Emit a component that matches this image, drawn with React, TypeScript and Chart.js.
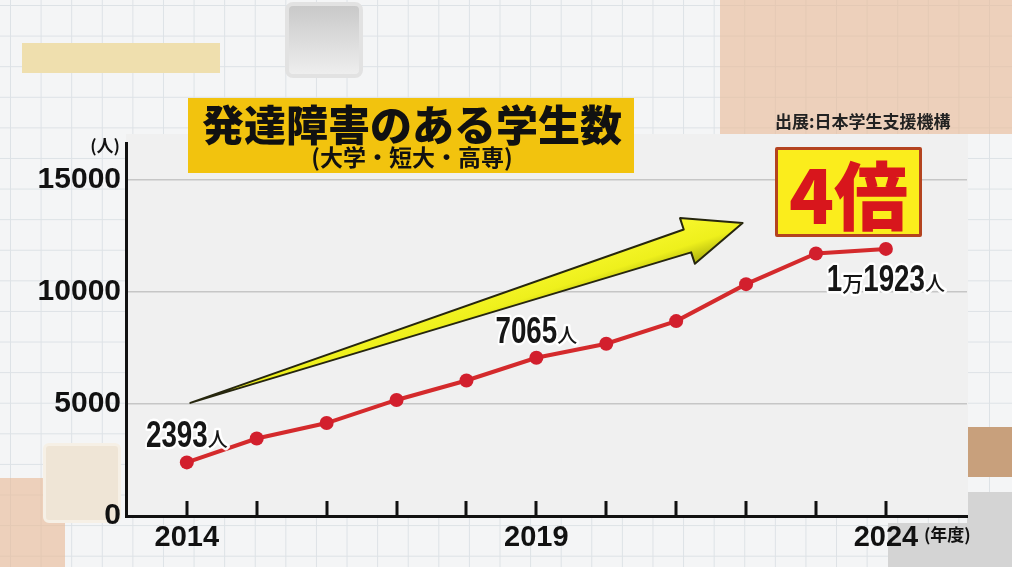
import React, { useEffect, useRef } from "react";
import { Chart, registerables } from "chart.js";

Chart.register(...registerables);

// ---- data ----
const years = [2014, 2015, 2016, 2017, 2018, 2019, 2020, 2021, 2022, 2023, 2024];
const students = [2393, 3460, 4150, 5180, 6050, 7065, 7690, 8700, 10350, 11720, 11923];
const yTickValues = [0, 5000, 10000, 15000];
const xLabelYears = [2014, 2019, 2024];
const labelIndices = [0, 5, 10];
const labelTexts = ["2393人", "7065人", "1万1923人"];
const labelBelow = [false, false, true];

// ---- texts ----
const titleMain = "発達障害のある学生数";
const titleSub = "(大学・短大・高専)";
const sourceText = "出展:日本学生支援機構";
const badgeText = "4倍";
const yUnit = "(人)";
const xUnit = "(年度)";

// arrow anchored in data space
const arrowFrom = [2014.05, 5050];
const arrowTo = [2021.95, 13080];

const NUM_FONT = "'Liberation Sans', Arial, sans-serif";
const JP_FONT = "'Noto Sans CJK JP', 'Noto Sans', sans-serif";

function splitParts(t: string) {
  const parts: { s: string; big: boolean }[] = [];
  for (const ch of t) {
    const big = /[0-9]/.test(ch);
    const last = parts[parts.length - 1];
    if (last && last.big && big) last.s += ch;
    else parts.push({ s: ch, big });
  }
  return parts;
}

const overlayPlugin = {
  id: "overlay",
  beforeDatasetsDraw(chart: any) {
    const { ctx, scales } = chart;
    const x = scales.x;
    const y = scales.y;
    // arrow
    const tx = x.getPixelForValue(arrowFrom[0]);
    const ty = y.getPixelForValue(arrowFrom[1]);
    const px = x.getPixelForValue(arrowTo[0]);
    const py = y.getPixelForValue(arrowTo[1]);
    const dx = px - tx;
    const dy = py - ty;
    const len = Math.hypot(dx, dy);
    const ux = dx / len;
    const uy = dy / len;
    const nx = -uy;
    const ny = ux;
    const headLen = 58;
    const headHalf = 24;
    const shaftHalf = 12;
    const bx = px - ux * headLen;
    const by = py - uy * headLen;
    ctx.save();
    ctx.beginPath();
    ctx.moveTo(tx, ty);
    ctx.lineTo(bx - nx * shaftHalf, by - ny * shaftHalf);
    ctx.lineTo(bx - nx * headHalf, by - ny * headHalf);
    ctx.lineTo(px, py);
    ctx.lineTo(bx + nx * headHalf, by + ny * headHalf);
    ctx.lineTo(bx + nx * shaftHalf, by + ny * shaftHalf);
    ctx.closePath();
    const g = ctx.createLinearGradient(bx - nx * 20, by - ny * 20, bx + nx * 20, by + ny * 20);
    g.addColorStop(0, "#f6f62a");
    g.addColorStop(0.6, "#eef01c");
    g.addColorStop(1, "#b8bc10");
    ctx.fillStyle = g;
    ctx.fill();
    ctx.lineJoin = "round";
    ctx.lineWidth = 2;
    ctx.strokeStyle = "#26260e";
    ctx.stroke();
    ctx.restore();
  },
  afterDatasetsDraw(chart: any) {
    const { ctx } = chart;
    const meta = chart.getDatasetMeta(0);
    labelIndices.forEach((idx, k) => {
      const pt = meta.data[idx];
      const parts = splitParts(labelTexts[k]);
      const sx = 0.75;
      const fontOf = (p: { s: string; big: boolean }) =>
        p.big ? `bold 37px ${NUM_FONT}` : `500 ${p.s === "万" ? 21 : 20}px ${JP_FONT}`;
      ctx.save();
      const widths = parts.map((p) => {
        ctx.font = fontOf(p);
        return ctx.measureText(p.s).width * (p.big ? sx : 1);
      });
      const total = widths.reduce((a, b) => a + b, 0);
      let cx = pt.x - total / 2;
      const baseY = labelBelow[k] ? pt.y + 42 : pt.y - 15;
      ctx.textBaseline = "alphabetic";
      ctx.textAlign = "left";
      parts.forEach((p, i) => {
        ctx.save();
        ctx.font = fontOf(p);
        ctx.translate(cx, baseY);
        if (p.big) ctx.scale(sx, 1);
        ctx.lineJoin = "round";
        ctx.strokeStyle = "rgba(255,255,255,0.95)";
        ctx.lineWidth = 5;
        ctx.strokeText(p.s, 0, 0);
        ctx.fillStyle = "#161616";
        ctx.fillText(p.s, 0, 0);
        ctx.restore();
        cx += widths[i];
      });
      ctx.restore();
    });
  },
  afterDraw(chart: any) {
    const { ctx, chartArea, scales } = chart;
    const x = scales.x;
    ctx.save();
    // inward tick marks on x-axis
    ctx.strokeStyle = "#111";
    ctx.lineWidth = 3;
    years.forEach((yr) => {
      const px = Math.round(x.getPixelForValue(yr));
      ctx.beginPath();
      ctx.moveTo(px, chartArea.bottom - 15);
      ctx.lineTo(px, chartArea.bottom);
      ctx.stroke();
    });
    // units
    ctx.fillStyle = "#111";
    ctx.font = `bold 17px ${JP_FONT}`;
    ctx.textAlign = "right";
    ctx.textBaseline = "middle";
    ctx.fillText(yUnit, chartArea.left - 6, chartArea.top + 3);
    ctx.textAlign = "left";
    ctx.fillText(xUnit, x.getPixelForValue(2024) + 38, chartArea.bottom + 19);
    ctx.restore();
  },
};

export default function App() {
  const canvasRef = useRef<HTMLCanvasElement | null>(null);

  useEffect(() => {
    document.body.style.margin = "0";
    const canvas = canvasRef.current;
    if (!canvas) return;
    const chart = new Chart(canvas, {
      type: "line",
      data: {
        datasets: [
          {
            data: years.map((yr, i) => ({ x: yr, y: students[i] })),
            borderColor: "#d42a2c",
            borderWidth: 4,
            pointRadius: 7,
            pointBackgroundColor: "#d21f2d",
            pointBorderColor: "#d21f2d",
            pointBorderWidth: 0,
            tension: 0,
          },
        ],
      },
      options: {
        responsive: false,
        animation: false,
        layout: { padding: { left: 0, right: 57, top: 143, bottom: 0 } },
        plugins: { legend: { display: false }, tooltip: { enabled: false } },
        scales: {
          x: {
            type: "linear",
            min: 2013.13,
            max: 2025.16,
            afterBuildTicks: (s: any) => {
              s.ticks = years.map((v) => ({ value: v }));
            },
            afterFit: (s: any) => {
              s.height = 60;
            },
            grid: { display: false, drawTicks: false },
            border: { display: true, color: "#111", width: 3 },
            ticks: {
              autoSkip: false,
              maxRotation: 0,
              padding: 5,
              color: "#111",
              font: { family: NUM_FONT, size: 29, weight: "bold" },
              callback: (v: any) => (xLabelYears.includes(Number(v)) ? String(v) : ""),
            },
          },
          y: {
            min: 0,
            max: 16650,
            afterBuildTicks: (s: any) => {
              s.ticks = yTickValues.map((v) => ({ value: v }));
            },
            afterFit: (s: any) => {
              s.width = 126;
            },
            grid: {
              drawTicks: false,
              color: (c: any) => (c.tick && c.tick.value === 0 ? "rgba(0,0,0,0)" : "#c6c6c6"),
              lineWidth: 1.5,
            },
            border: { display: true, color: "#111", width: 3 },
            ticks: {
              padding: 5,
              color: "#111",
              font: { family: NUM_FONT, size: 30, weight: "bold" },
              callback: (v: any) => String(v),
            },
          },
        },
      },
      plugins: [overlayPlugin],
    } as any);
    return () => chart.destroy();
  }, []);

  const abs = (l: number, t: number, w: number, h: number, extra: any = {}) => ({
    position: "absolute" as const,
    left: l,
    top: t,
    width: w,
    height: h,
    boxSizing: "border-box" as const,
    ...extra,
  });

  return (
    <div style={{ position: "relative", width: 1024, height: 576, overflow: "hidden", background: "#ffffff" }}>
      <div
        style={abs(0, 0, 1012, 567, {
          backgroundColor: "#f4f5f6",
          backgroundImage:
            "linear-gradient(to right, #dde2e6 1px, transparent 1px), linear-gradient(to bottom, #dde2e6 1px, transparent 1px)",
          backgroundSize: "30.6px 30.6px",
          backgroundPosition: "10px 5px",
        })}
      />
      {/* decorations */}
      <div style={abs(22, 43, 198, 30, { background: "#efdfae" })} />
      <div
        style={abs(285, 2, 78, 76, {
          borderRadius: 8,
          border: "4px solid #e2e2e2",
          background: "linear-gradient(#c9c9c9, #eeeeee)",
        })}
      />
      <div style={abs(720, 0, 292, 134, { background: "rgba(232,186,150,0.62)" })} />
      <div style={abs(0, 478, 65, 89, { background: "rgba(232,186,150,0.62)" })} />
      <div
        style={abs(43, 443, 78, 80, {
          borderRadius: 6,
          border: "3px solid #f6f0e6",
          background: "#efe5d6",
        })}
      />
      <div style={abs(967, 427, 45, 50, { background: "#c8a07c" })} />
      <div style={abs(967, 492, 45, 75, { background: "#d4d4d4" })} />
      <div style={abs(888, 523, 124, 44, { background: "#d4d4d4" })} />
      {/* plot panel */}
      <div style={abs(126, 134, 842, 384, { background: "#f0f0f0" })} />
      <canvas ref={canvasRef} width={1024} height={576} style={{ position: "absolute", left: 0, top: 0 }} />
      {/* title */}
      <div
        style={abs(188, 98, 446, 75, {
          background: "#f2c30e",
          display: "flex",
          flexDirection: "column",
          alignItems: "center",
          fontFamily: JP_FONT,
          color: "#111",
        })}
      >
        <div style={{ fontSize: 42, fontWeight: 900, lineHeight: "46px", marginTop: 2, marginLeft: 2 }}>{titleMain}</div>
        <div style={{ fontSize: 23, fontWeight: 700, lineHeight: "24px", marginTop: -2, marginLeft: 2 }}>{titleSub}</div>
      </div>
      <div
        style={abs(775, 110, 200, 22, {
          fontFamily: JP_FONT,
          fontSize: 17,
          fontWeight: 700,
          color: "#222",
          lineHeight: "22px",
          whiteSpace: "nowrap",
        })}
      >
        {sourceText}
      </div>
      {/* badge */}
      <div
        style={abs(775, 147, 147, 90, {
          background: "#fbed1c",
          border: "3px solid #b4431f",
          borderRadius: 2,
          display: "flex",
          alignItems: "center",
          justifyContent: "center",
          fontFamily: JP_FONT,
          fontWeight: 900,
          fontSize: 74,
          color: "#d8161c",
          lineHeight: "84px",
        })}
      >
        {badgeText}
      </div>
    </div>
  );
}
